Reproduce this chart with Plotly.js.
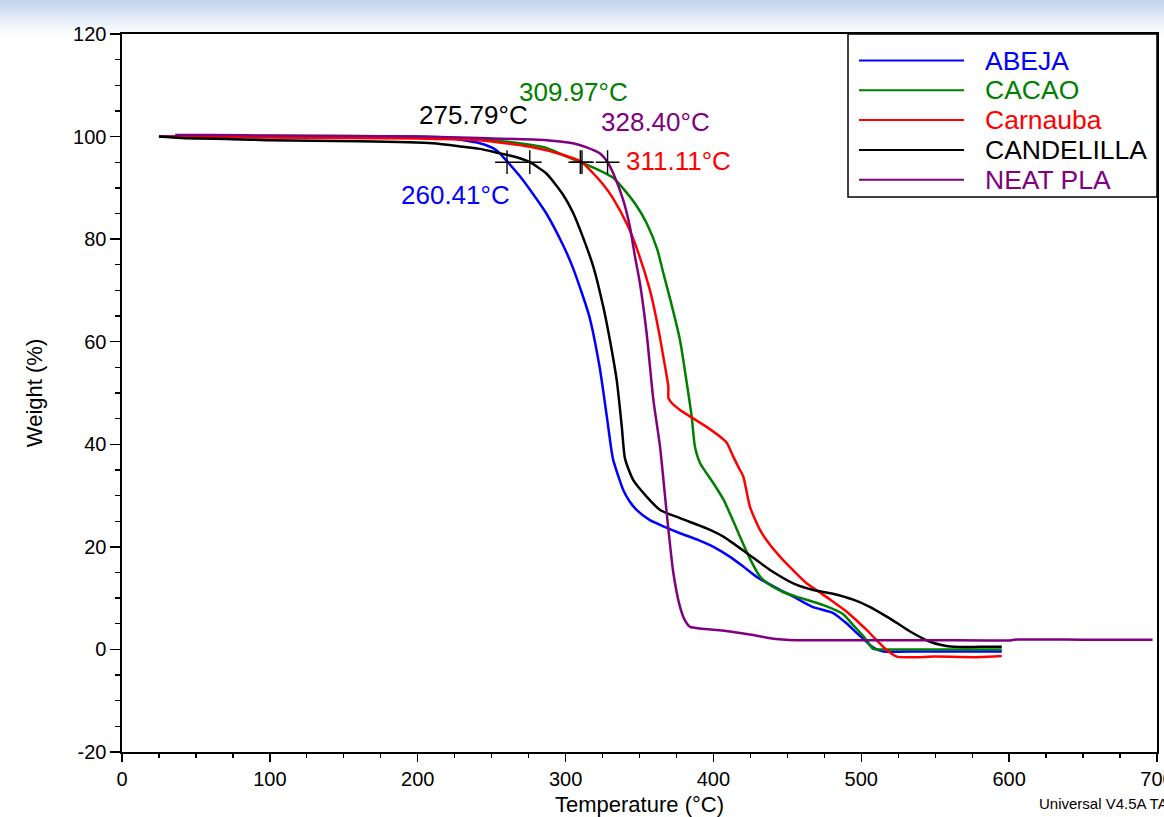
<!DOCTYPE html>
<html>
<head>
<meta charset="utf-8">
<script src="https://cdn.plot.ly/plotly-3.0.1.min.js"></script>
<style>
  html, body { margin: 0; padding: 0; }
  body { width: 1164px; height: 817px; overflow: hidden;
         background: linear-gradient(to bottom, #bdd4eb 0px, #dfeaf6 16px, #f6f9fc 30px, #ffffff 36px, #ffffff 100%); }
  #chart { width: 1164px; height: 817px; }
</style>
</head>
<body>
<div id="chart"></div>
<script>
// ---- Data ----
const seriesNames  = ["ABEJA", "CACAO", "Carnauba", "CANDELILLA", "NEAT PLA"];
const seriesColors = ["#0000ff", "#008000", "#ff0000", "#000000", "#800080"];

const abejaT = [25, 60, 100, 150, 200, 220, 242, 253, 260.4, 269, 278, 287, 298, 305, 316, 323, 328, 332, 336, 339, 343, 348, 357, 367, 377, 390, 400, 411, 420, 429, 445, 456, 467, 481, 490, 497, 503.6, 506, 510.4, 515, 540, 570, 595];
const abejaW = [100, 100, 99.9, 99.8, 99.8, 99.7, 98.7, 97.4, 95.2, 92.3, 88.8, 85.0, 79.0, 74.4, 65.0, 55.1, 45.2, 37.2, 33.5, 31.1, 29.0, 27.2, 25.2, 23.9, 22.7, 21.3, 20.0, 18.1, 16.2, 14.2, 11.6, 10.0, 8.3, 7.1, 5.1, 3.2, 1.5, 0.8, 0.0, -0.4, -0.4, -0.4, -0.4];

const cacaoT = [38, 60, 100, 150, 200, 227, 250, 276, 287, 300.7, 310, 320, 332, 340, 348, 355, 362, 366, 371, 377.4, 382, 385.3, 387.5, 391, 400, 407, 416, 425, 431.5, 438, 447, 456, 465, 474, 483, 488, 495, 501.4, 505, 508, 515, 550, 595];
const cacaoW = [100.2, 100.2, 100.1, 100.1, 100.0, 99.7, 99.3, 98.4, 97.8, 96.1, 95.0, 93.8, 92.0, 89.5, 86.5, 83.0, 78.0, 73.5, 68.0, 60.3, 51.9, 45.4, 39.5, 36.3, 32.4, 29.1, 23.3, 17.5, 14.2, 12.6, 11.2, 10.3, 9.5, 8.7, 7.6, 6.8, 4.6, 2.6, 1.2, 0.1, 0.0, 0.0, 0.0];

const carnaubaT = [25, 60, 100, 150, 200, 242, 276, 298.5, 311, 318.8, 325, 332, 342.4, 349, 357, 361.6, 366.1, 369.5, 369.6, 372, 377.4, 386, 395.4, 404.4, 409, 413.4, 417, 420.2, 424.7, 431.5, 438, 445, 454, 463, 472, 479, 490, 497, 503.6, 510, 517.2, 524, 550, 580, 595];
const carnaubaW = [100, 99.9, 99.8, 99.7, 99.6, 99.3, 98.0, 96.4, 95.0, 92.8, 90.8, 88.0, 82.4, 77.5, 70.1, 64.2, 57.1, 51.2, 49.0, 48.0, 46.7, 45.1, 43.4, 41.5, 40.3, 37.6, 35.5, 33.7, 27.8, 23.3, 20.5, 18.1, 15.4, 12.9, 11.1, 9.7, 7.4, 5.6, 3.8, 1.9, -0.1, -1.4, -1.4, -1.5, -1.3];

const candelillaT = [25, 40, 75, 98, 160, 210, 231, 242, 253, 265, 275.8, 287, 298, 305, 312, 318.8, 325.5, 330, 334.6, 338, 340.2, 345.8, 354.8, 363.9, 377.4, 395.4, 406.7, 422.5, 438.3, 454, 467.5, 480, 494.6, 505, 517.2, 525, 533, 546.5, 555, 562.3, 580, 595];
const candelillaW = [100, 99.7, 99.5, 99.3, 99.1, 98.7, 98.0, 97.6, 96.9, 96.1, 95.0, 92.8, 88.8, 85.2, 80.2, 74.6, 66.8, 60.3, 52.5, 43.5, 37.2, 33.0, 29.8, 27.2, 25.6, 23.6, 22.0, 18.8, 15.5, 12.9, 11.6, 10.9, 9.7, 8.4, 6.4, 5.0, 3.5, 1.5, 0.8, 0.5, 0.5, 0.5];

const neatPlaT = [36, 60, 100, 150, 200, 242, 287, 305, 314.3, 323.3, 328.4, 332.3, 339, 343.5, 347, 350.3, 354.8, 359.4, 363.9, 368.4, 372.9, 377.4, 381, 384.2, 390.9, 411.2, 427, 438.3, 456.3, 500, 550, 602, 603, 650, 697];
const neatPlaW = [100.3, 100.3, 100.2, 100.1, 100.0, 99.7, 99.3, 98.7, 97.9, 96.7, 95.0, 92.8, 87.6, 82.4, 76.5, 71.4, 61.7, 48.6, 39.5, 26.6, 14.9, 8.3, 5.5, 4.4, 4.1, 3.5, 2.8, 2.2, 1.8, 1.8, 1.8, 1.8, 1.9, 1.9, 1.9];

// onset temperatures (5 % weight loss points), order: ABEJA, CACAO, Carnauba, CANDELILLA, NEAT PLA
const onsetTemps   = [260.41, 309.97, 311.11, 275.79, 328.40];
const onsetWeights = [95, 95, 95, 95, 95];

const xTicks = [0, 100, 200, 300, 400, 500, 600, 700];
const yTicks = [-20, 0, 20, 40, 60, 80, 100, 120];

// ---- Build traces ----
const seriesT = [abejaT, cacaoT, carnaubaT, candelillaT, neatPlaT];
const seriesW = [abejaW, cacaoW, carnaubaW, candelillaW, neatPlaW];

const FONT = "Liberation Sans, Arial, Helvetica, sans-serif";

const traces = seriesNames.map((name, i) => ({
  type: "scatter", mode: "lines", name: name,
  x: seriesT[i], y: seriesW[i],
  line: { color: seriesColors[i], width: 2.5, shape: "spline", smoothing: 0.6 },
  showlegend: false, hoverinfo: "x+y+name"
}));

traces.push({
  type: "scatter", mode: "markers", name: "onset",
  x: onsetTemps, y: onsetWeights,
  marker: { symbol: "cross-thin-open", size: 17, color: "#000", line: { color: "#000", width: 1.4 } },
  showlegend: false
});

// label placement (layout only): [x, y] in data units for the left-middle of each label
const labelPos = [[188, 88.6], [267.8, 108.7], [340.2, 95.3], [200.4, 104.2], [323.3, 102.8]];

const annotations = onsetTemps.map((t, i) => ({
  x: labelPos[i][0], y: labelPos[i][1], xref: "x", yref: "y",
  xanchor: "left", yanchor: "middle", showarrow: false, borderpad: 0,
  text: t.toFixed(2) + "°C",
  font: { family: FONT, size: 26, color: seriesColors[i] }
}));

// custom legend box (pixels -> paper)
const L = 122, R = 1157, T = 34, B = 752;
const px = v => (v - L) / (R - L);
const py = v => (B - v) / (B - T);

const shapes = [{
  type: "rect", xref: "paper", yref: "paper",
  x0: px(848), x1: px(1157), y0: py(197), y1: py(34),
  line: { color: "#000", width: 1.5 }, fillcolor: "#ffffff", layer: "below"
}];
seriesNames.forEach((name, i) => {
  const yy = py(60.5 + i * 29.8);
  shapes.push({ type: "line", xref: "paper", yref: "paper",
    x0: px(859), x1: px(964), y0: yy, y1: yy,
    line: { color: seriesColors[i], width: 2 } });
  annotations.push({ x: px(984), y: yy, xref: "paper", yref: "paper",
    xanchor: "left", yanchor: "middle", showarrow: false, borderpad: 0,
    text: name, font: { family: FONT, size: 26.5, color: seriesColors[i] } });
});

annotations.push({
  x: px(1037), y: py(803), xref: "paper", yref: "paper",
  xanchor: "left", yanchor: "middle", showarrow: false,
  text: "Universal V4.5A TA Instruments",
  font: { family: FONT, size: 15, color: "#000" }
});

const layout = {
  width: 1164, height: 817,
  margin: { l: L, r: 1164 - R, t: T, b: 817 - B, pad: 0 },
  paper_bgcolor: "rgba(0,0,0,0)",
  plot_bgcolor: "#ffffff",
  font: { family: FONT, color: "#000" },
  xaxis: {
    range: [0, 700], tickvals: xTicks, ticktext: xTicks.map(String),
    ticks: "outside", ticklen: 8, tickwidth: 1.5, tickcolor: "#000",
    ticklabeloverflow: "allow",
    minor: { dtick: 25, tick0: 0, ticks: "outside", ticklen: 4, tickwidth: 1.3, tickcolor: "#000" },
    showline: true, linecolor: "#000", linewidth: 1.6, mirror: true,
    showgrid: false, zeroline: false,
    tickfont: { family: FONT, size: 20, color: "#000" },
    title: { text: "Temperature (°C)", font: { family: FONT, size: 22, color: "#000" }, standoff: 12 }
  },
  yaxis: {
    range: [-20, 120], tickvals: yTicks, ticktext: yTicks.map(String),
    ticks: "outside", ticklen: 10, tickwidth: 1.5, tickcolor: "#000",
    minor: { dtick: 5, tick0: 0, ticks: "outside", ticklen: 5, tickwidth: 1.3, tickcolor: "#000" },
    showline: true, linecolor: "#000", linewidth: 1.6, mirror: true,
    showgrid: false, zeroline: false,
    tickfont: { family: FONT, size: 20, color: "#000" },
    title: { text: "Weight (%)", font: { family: FONT, size: 22, color: "#000" }, standoff: 24 }
  },
  shapes: shapes,
  annotations: annotations,
  showlegend: false
};

Plotly.newPlot("chart", traces, layout, { displayModeBar: false, staticPlot: true });
</script>
</body>
</html>
